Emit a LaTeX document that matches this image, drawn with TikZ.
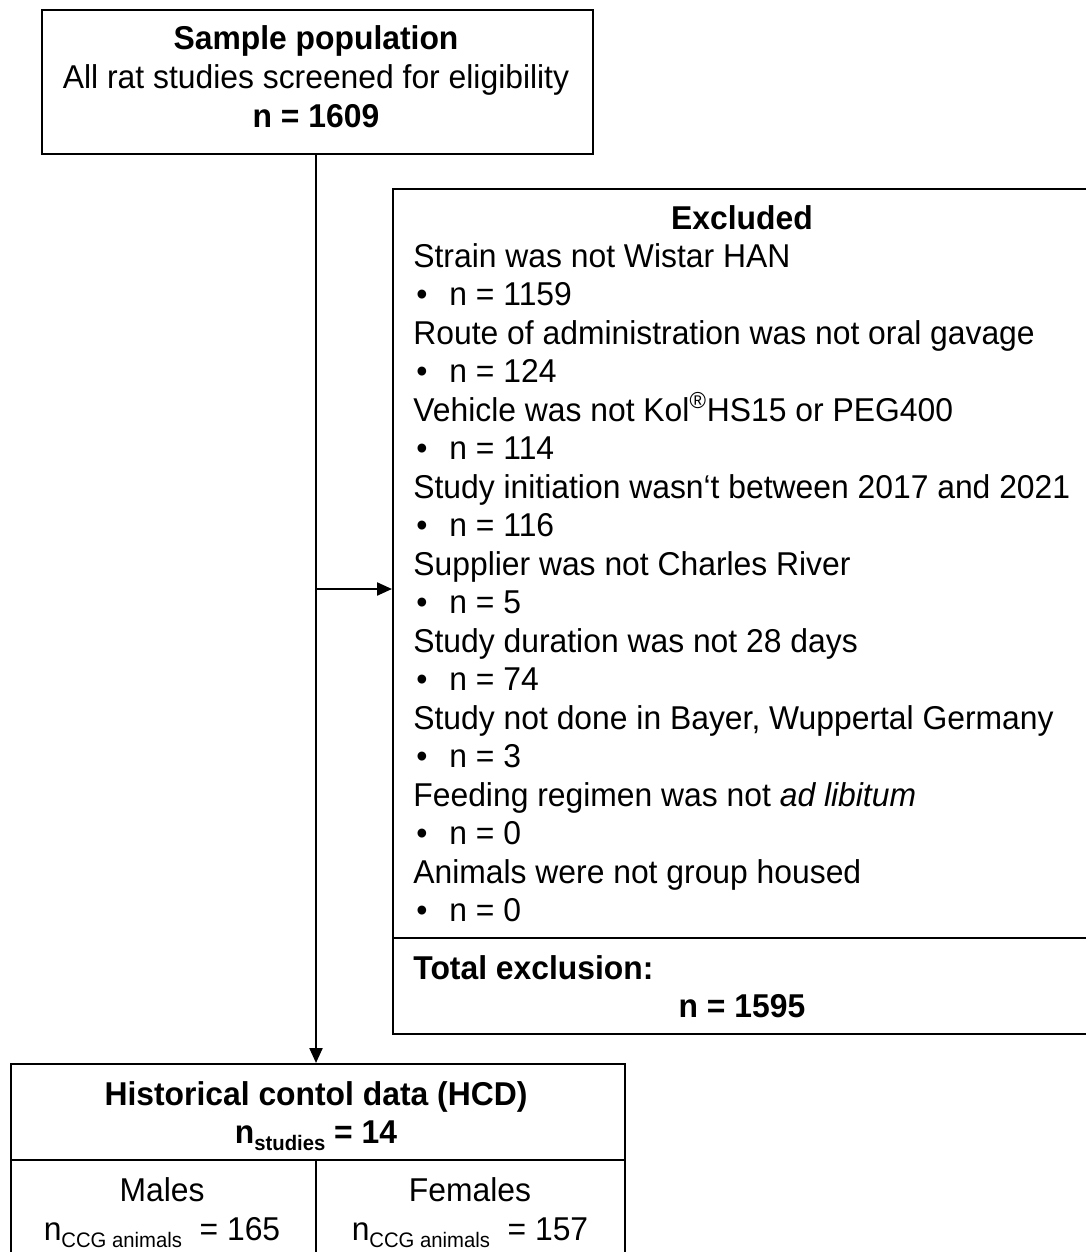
\documentclass[tikz,border=0pt]{standalone}
\usepackage{fontspec}
\setmainfont[FakeStretch=0.965]{Liberation Sans}
\usetikzlibrary{arrows.meta}
\newcommand\subsm[1]{\raisebox{-0.45ex}{\fontsize{10.5}{11}\selectfont #1}}
\begin{document}
\begin{tikzpicture}[x=0.5pt,y=-0.5pt,
  frame/.style={draw=black,line width=1.1pt},
  link/.style={draw=black,line width=1.1pt},
  tip/.style={-{Triangle[length=7.5pt,width=6.5pt]}},
  txt/.style={inner sep=0pt,font=\fontsize{16.5}{19}\selectfont},
  bold/.style={txt,font=\fontsize{16.5}{19}\selectfont\bfseries}]
\useasboundingbox (0,0) rectangle (1086,1252);

% boxes
\node[frame,minimum width=551*0.5pt,minimum height=144*0.5pt,anchor=north west,inner sep=0pt] (top) at (41,9) {};
\node[frame,minimum width=710*0.5pt,minimum height=845*0.5pt,anchor=north west,inner sep=0pt] (excl) at (392,188) {};
\node[frame,minimum width=614*0.5pt,minimum height=220*0.5pt,anchor=north west,inner sep=0pt] (hcd) at (10,1063) {};
\coordinate (exdivL) at (392,938);
\coordinate (exdivR) at (1100,938);
\draw[link] (exdivL) -- (exdivR);
\coordinate (hdivL) at (10,1160);
\coordinate (hdivR) at (624,1160);
\coordinate (hdivM) at (316,1160);
\coordinate (hbot) at (316,1290);
\draw[link] (hdivL) -- (hdivR);
\draw[link] (hdivM) -- (hbot);

% connectors
\coordinate (branch) at (316,589);
\draw[link,tip] (top.south -| branch) -- (hcd.north -| branch);
\draw[link,tip] (branch) -- (branch -| excl.west);

% top box text
\node[bold,anchor=base] (t1) at (316,50) {Sample population};
\node[txt,anchor=base] (t2) at (316,89) {All rat studies screened for eligibility};
\node[bold,anchor=base] (t3) at (316,127) {n = 1609};

% exclusion list
\node[bold,anchor=base] (exhead) at (742,229) {Excluded};
\foreach \i/\lab/\num in {
  0/{Strain was not Wistar HAN}/1159,
  1/{Route of administration was not oral gavage}/124,
  2/{Vehicle was not Kol\textsuperscript{®}HS15 or PEG400}/114,
  3/{Study initiation wasn‘t between 2017 and 2021}/116,
  4/{Supplier was not Charles River}/5,
  5/{Study duration was not 28 days}/74,
  6/{Study not done in Bayer, Wuppertal Germany}/3,
  7/{Feeding regimen was not \textit{ad libitum}}/0,
  8/{Animals were not group housed}/0} {
  \node[txt,anchor=base west] (crit\i) at (413,267+77*\i) {\lab};
  \node[txt,anchor=base west] (bul\i) at (416,305.5+77*\i) {•};
  \node[txt,anchor=base west] (num\i) at (449,305.5+77*\i) {n = \num};
}
\node[bold,anchor=base west] (tot) at (413,979) {Total exclusion:};
\node[bold,anchor=base] (totn) at (742,1017) {n = 1595};

% HCD box text
\node[bold,anchor=base] (h1) at (316,1105) {Historical contol data (HCD)};
\node[bold,anchor=base] (h2) at (316,1143) {n\subsm{\bfseries studies} = 14};
\node[txt,anchor=base] (m1) at (162,1201) {Males};
\node[txt,anchor=base] (m2) at (162,1240) {n\subsm{CCG animals} \ = 165};
\node[txt,anchor=base] (f1) at (470,1201) {Females};
\node[txt,anchor=base] (f2) at (470,1240) {n\subsm{CCG animals} \ = 157};
\end{tikzpicture}
\end{document}
